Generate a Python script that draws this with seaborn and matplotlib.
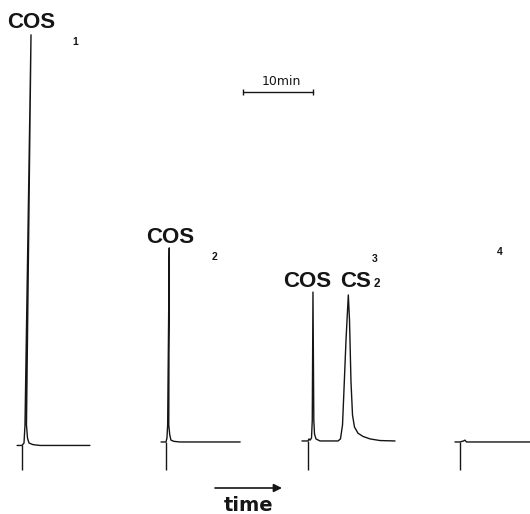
import numpy as np
import pandas as pd
import matplotlib
matplotlib.use("Agg")
import matplotlib.pyplot as plt
import seaborn as sns

# ---------------- data ----------------
# injection time of each chromatogram on the chart (minutes)
injection_min = [3.14, 23.71, 44.0, 65.71]
trace_ids = ["1", "2", "3", "4"]

# local time after injection (min) and detector signal (arbitrary units)
t1 = [-0.7, 0.0, 0.29, 0.43, 1.29, 0.64, 0.79, 1.0, 1.57, 2.6, 9.7]
s1 = [-0.6, -0.6, 0.0, 4.4, 99.8, 4.4, 1.2, 0.0, -0.4, -0.6, -0.6]

t2 = [-0.7, 0.0, 0.14, 0.24, 0.47, 0.40, 0.54, 0.71, 1.14, 2.0, 10.6]
s2 = [0.25, 0.25, 1.2, 4.4, 47.7, 4.4, 2.0, 0.7, 0.4, 0.25, 0.25]

t3 = [-0.86, 0.0, 0.14, 0.3, 0.5, 0.61, 0.71, 0.83, 0.93, 1.14, 1.71, 4.29,
      4.64, 4.93, 5.14, 5.43, 5.76, 5.93, 6.14, 6.36, 6.64, 7.14, 7.86,
      8.86, 10.29, 12.43]
s3 = [0.5, 0.5, 1.0, 0.7, 1.2, 5.6, 36.9, 5.6, 2.2, 1.0, 0.5, 0.5,
      1.0, 4.4, 13.0, 25.2, 36.2, 30.0, 15.0, 6.8, 3.9, 2.4, 1.6,
      1.0, 0.6, 0.5]

t4 = [-0.71, 0.0, 0.5, 0.71, 0.93, 11.0]
s4 = [0.25, 0.25, 0.5, 0.7, 0.25, 0.25]

baselines = [-0.6, 0.25, 0.5, 0.25]
peak_labels = ["COS", "COS", "COS", "CS"]
scale_bar_min = 10

# ---------------- build long table ----------------
rows = []
for tid, inj, tt, ss in zip(trace_ids, injection_min, [t1, t2, t3, t4], [s1, s2, s3, s4]):
    for i, (t, s) in enumerate(zip(tt, ss)):
        rows.append({"trace": tid, "order": i, "time": inj + t, "signal": s})
df = pd.DataFrame(rows)

# ---------------- figure ----------------
sns.set_theme(style="white")
W, H = 530, 514
fig = plt.figure(figsize=(W / 100, H / 100), dpi=100)
ax = fig.add_axes([0, 0, 1, 1])

ink = "#151515"
sns.lineplot(data=df, x="time", y="signal", units="trace", estimator=None,
             sort=False, color=ink, lw=1.0, ax=ax, legend=False)

# injection marks
tick_bottom = -6.6
ax.vlines(injection_min, [b for b in baselines], tick_bottom, color=ink, lw=1.0)

ax.set_xlim(0, W / 7)
ax.set_ylim(-(H - 443) / 4.09, 443 / 4.09)
ax.set_axis_off()


def fx(px):
    return px / W


def fy(py):
    return 1 - py / H


big = dict(family="Liberation Sans", fontweight="bold", fontsize=16, color=ink)
small = dict(family="Liberation Sans", fontweight="bold", fontsize=7.5, color=ink)

fig.text(fx(31), fy(28), peak_labels[0], ha="center", va="baseline", **big)
fig.text(fx(170), fy(243), peak_labels[1], ha="center", va="baseline", **big)
fig.text(fx(307.5), fy(287), peak_labels[2], ha="center", va="baseline", **big)
fig.text(fx(340), fy(287), peak_labels[3], ha="left", va="baseline", **big)
fig.text(fx(373.5), fy(287), "2", ha="left", va="baseline",
         family="Liberation Sans", fontweight="bold", fontsize=8.5, color=ink)

for lab, (px, py) in zip(trace_ids, [(75, 45), (215, 260), (375, 262), (500, 255)]):
    fig.text(fx(px), fy(py), lab, ha="center", va="baseline", **small)

# 10 min scale bar
x0 = 243 / 7
yb = (443 - 92) / 4.09
ax.plot([x0, x0 + scale_bar_min], [yb, yb], color=ink, lw=1.0)
ax.vlines([x0, x0 + scale_bar_min], yb - 0.7, yb + 0.7, color=ink, lw=1.0)
fig.text(fx(281), fy(85), f"{scale_bar_min}min", ha="center", va="baseline",
         family="DejaVu Sans", fontsize=9, color=ink)

# time arrow
ya = (443 - 488) / 4.09
ax.annotate("", xy=(282 / 7, ya), xytext=(215 / 7, ya),
            arrowprops=dict(arrowstyle="-|>", lw=1.2, color=ink, mutation_scale=12,
                            shrinkA=0, shrinkB=0))
fig.text(fx(249), fy(511), "time", ha="center", va="baseline",
         family="DejaVu Sans", fontweight="bold", fontsize=14, color=ink)

fig.savefig("out.png", dpi=100, facecolor="white")
